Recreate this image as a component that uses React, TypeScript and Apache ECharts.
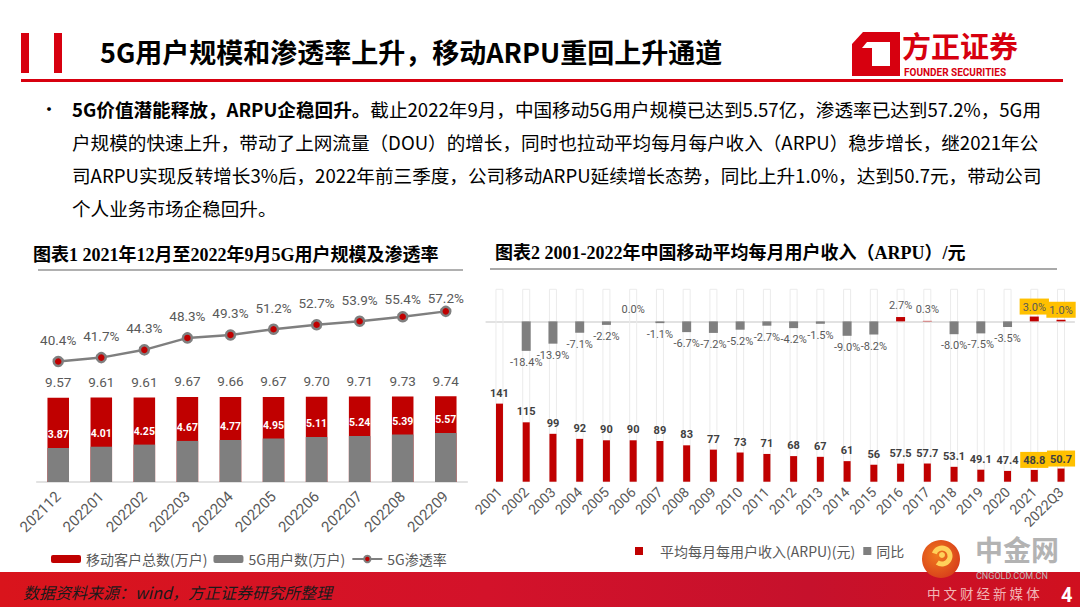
import React, { useEffect, useRef } from "react";
import * as echarts from "echarts";

// ---------- data ----------
const months = ["202112", "202201", "202202", "202203", "202204", "202205", "202206", "202207", "202208", "202209"];
const totalUsers = [9.57, 9.61, 9.61, 9.67, 9.66, 9.67, 9.7, 9.71, 9.73, 9.74];
const users5G = [3.87, 4.01, 4.25, 4.67, 4.77, 4.95, 5.11, 5.24, 5.39, 5.57];
const penetration = [40.4, 41.7, 44.3, 48.3, 49.3, 51.2, 52.7, 53.9, 55.4, 57.2];

const years = ["2001", "2002", "2003", "2004", "2005", "2006", "2007", "2008", "2009", "2010", "2011",
  "2012", "2013", "2014", "2015", "2016", "2017", "2018", "2019", "2020", "2021", "2022Q3"];
const arpu = [141, 115, 99, 92, 90, 90, 89, 83, 77, 73, 71, 68, 67, 61, 56, 57.5, 57.7, 53.1, 49.1, 47.4, 48.8, 50.7];
const yoy: (number | null)[] = [null, -18.4, -13.9, -7.1, -2.2, 0.0, -1.1, -6.7, -7.2, -5.2, -2.7, -4.2, -1.5,
  -9.0, -8.2, 2.7, 0.3, -8.0, -7.5, -3.5, 3.0, 1.0];
const highlightedYears = ["2021", "2022Q3"];

const pageTitle = "5G用户规模和渗透率上升，移动ARPU重回上升通道";
const chart1Title = "图表1 2021年12月至2022年9月5G用户规模及渗透率";
const chart2Title = "图表2 2001-2022年中国移动平均每月用户收入（ARPU）/元";
const bodyBold = "5G价值潜能释放，ARPU企稳回升。";
const bodyLines = [
  "截止2022年9月，中国移动5G用户规模已达到5.57亿，渗透率已达到57.2%，5G用",
  "户规模的快速上升，带动了上网流量（DOU）的增长，同时也拉动平均每月每户收入（ARPU）稳步增长，继2021年公",
  "司ARPU实现反转增长3%后，2022年前三季度，公司移动ARPU延续增长态势，同比上升1.0%，达到50.7元，带动公司",
  "个人业务市场企稳回升。",
];
const sourceText = "数据资料来源：wind，方正证券研究所整理";

// ---------- styles ----------
const RED = "#C00000";
const GRAY = "#7F7F7F";
const LABEL = "#595959";
const YELLOW = "#FFC000";
const BRAND = "#D7000F";
const FONT = 'Roboto, "Noto Sans CJK SC", sans-serif';
const CJK = '"Noto Sans CJK SC", sans-serif';
const SERIF_CJK = '"Liberation Serif", "Noto Sans CJK SC", serif';

function txt(text: string, x: number, y: number, o: any = {}) {
  return {
    type: "text",
    x,
    y,
    silent: true,
    style: {
      text,
      fill: o.fill || "#000",
      fontSize: o.fontSize || 14,
      fontWeight: o.fontWeight || "normal",
      fontStyle: o.fontStyle || "normal",
      fontFamily: o.fontFamily || CJK,
      verticalAlign: "middle",
      align: o.align || "left",
      rich: o.rich,
    },
    z: 100,
  };
}

function buildGraphic() {
  const g: any[] = [];
  // header
  g.push({ type: "rect", shape: { x: 21, y: 33, width: 8, height: 40 }, style: { fill: BRAND } });
  g.push({ type: "rect", shape: { x: 54, y: 33, width: 8, height: 40 }, style: { fill: BRAND } });
  g.push(txt(pageTitle, 100, 51, { fontSize: 27, fontWeight: "bold" }));
  g.push({ type: "rect", shape: { x: 21, y: 79, width: 1042, height: 3 }, style: { fill: BRAND } });
  // logo
  g.push({
    type: "polygon",
    shape: { points: [[863, 32], [900, 32], [900, 76], [852, 76], [852, 44]] },
    style: { fill: BRAND },
  });
  g.push({
    type: "polygon",
    shape: { points: [[867, 42], [890, 42], [890, 66], [862, 66], [862, 48]] },
    style: { fill: "#fff" },
  });
  g.push({
    type: "polygon",
    shape: { points: [[862, 48], [872, 48], [872, 66], [862, 66]] },
    style: { fill: BRAND },
  });
  g.push(txt("方正证券", 902, 45, { fontSize: 29, fontWeight: "bold", fill: BRAND }));
  g.push(txt("FOUNDER SECURITIES", 904, 72, { fontSize: 10, fontWeight: "bold", fill: BRAND, fontFamily: FONT }));
  // body
  g.push(txt("•", 40, 108, { fontSize: 18 }));
  g.push(
    txt("{b|" + bodyBold + "}" + bodyLines[0], 72, 108, {
      fontSize: 18.6,
      rich: { b: { fontWeight: "bold", fontSize: 18.6, fill: "#000", fontFamily: CJK } },
    })
  );
  for (let i = 1; i < bodyLines.length; i++) {
    g.push(txt(bodyLines[i], 72, 108 + 33 * i, { fontSize: 18.6 }));
  }
  // chart titles
  g.push(txt(chart1Title, 33, 255, { fontSize: 18, fontWeight: "bold", fontFamily: SERIF_CJK }));
  g.push({ type: "line", shape: { x1: 38, y1: 270, x2: 463, y2: 270 }, style: { stroke: "#B0B0B0", lineWidth: 2 } });
  g.push(txt(chart2Title, 495, 253, { fontSize: 18, fontWeight: "bold", fontFamily: SERIF_CJK }));
  g.push({ type: "line", shape: { x1: 490, y1: 269, x2: 1057, y2: 269 }, style: { stroke: "#8C8C8C", lineWidth: 1.5 } });
  // bottom banner
  g.push({
    type: "rect",
    shape: { x: 0, y: 572, width: 1080, height: 35 },
    style: {
      fill: new echarts.graphic.LinearGradient(0, 0, 1, 0, [
        { offset: 0, color: "#D9141C" },
        { offset: 0.45, color: "#D3122A" },
        { offset: 0.75, color: "#C6112C" },
        { offset: 1, color: "#D0101F" },
      ]),
    },
    z: 50,
  });
  g.push(txt(sourceText, 23, 592, { fontSize: 16, fontStyle: "italic", fill: "#1A1A1A" }));
  // watermark
  g.push({
    type: "circle",
    shape: { cx: 941, cy: 559, r: 19 },
    style: {
      fill: new echarts.graphic.RadialGradient(0.4, 0.4, 0.7, [
        { offset: 0, color: "#F07A1E" },
        { offset: 1, color: "#D63A1A" },
      ]),
    },
    z: 100,
  });
  g.push({
    type: "arc",
    shape: { cx: 942, cy: 556, r: 8, startAngle: -Math.PI * 0.9, endAngle: Math.PI * 0.7 },
    style: { stroke: "#FFD15A", lineWidth: 5, fill: "none" },
    z: 101,
  });
  g.push({ type: "circle", shape: { cx: 942, cy: 555, r: 3 }, style: { fill: "#FFD15A" }, z: 101 });
  g.push(txt("中金网", 975, 549, { fontSize: 28, fontWeight: "bold", fill: "#B3B3B3" }));
  g.push(txt("CNGOLD.COM.CN", 976, 576, { fontSize: 9, fill: "#BDBDBD", fontFamily: FONT }));
  g.push(txt("中 文 财 经 新 媒 体", 927, 593, { fontSize: 13.5, fill: "#F2B5B5" }));
  g.push(txt("4", 1061, 595, { fontSize: 20, fontWeight: "bold", fill: "#fff", fontFamily: FONT }));
  return g;
}

function buildOption() {
  const n = penetration.length;
  const penData = penetration.map((v, i) => {
    if (i === n - 1) return { value: v, label: { distance: 1 } };
    if (i === n - 2) return { value: v, label: { distance: 5 } };
    return v;
  });
  const arpuData = arpu.map((v, i) => {
    const hl = highlightedYears.includes(years[i]);
    return hl
      ? { value: v, label: { backgroundColor: YELLOW, padding: [3, 3, 2, 3], distance: 2 } }
      : { value: v };
  });
  const yoyData = yoy.map((v, i) => {
    if (v === null) return "-";
    const hl = highlightedYears.includes(years[i]);
    const item: any = {
      value: v,
      itemStyle: { color: v > 0 ? RED : GRAY },
      label: { position: v >= 0 ? "top" : "bottom" },
    };
    if (hl) item.label = { position: "top", backgroundColor: YELLOW, padding: [3, 3, 2, 3], distance: 2 };
    return item;
  });

  return {
    animation: false,
    textStyle: { fontFamily: FONT },
    graphic: buildGraphic(),
    grid: [
      { left: 36.7, top: 306, width: 430.6, height: 176 },
      { left: 486.1, top: 289.3, width: 588.3, height: 192.4 },
    ],
    legend: [
      {
        left: 46,
        top: 547,
        itemWidth: 30,
        itemHeight: 8,
        itemGap: 6,
        textStyle: { color: LABEL, fontSize: 14, fontFamily: CJK },
        data: ["移动客户总数(万户)", "5G用户数(万户)", "5G渗透率"],
      },
      {
        left: 630,
        top: 539,
        itemWidth: 8,
        itemHeight: 8,
        itemGap: 8,
        textStyle: { color: LABEL, fontSize: 14, fontFamily: CJK },
        data: [
          { name: "平均每月每用户收入(ARPU)(元)", icon: "rect", textStyle: { padding: [0, 0, 0, 12] } },
          { name: "同比", icon: "rect" },
        ],
      },
    ],
    xAxis: [
      {
        gridIndex: 0,
        type: "category",
        data: months,
        axisLine: { lineStyle: { color: "#D9D9D9", width: 1.5 } },
        axisTick: { show: false },
        axisLabel: { rotate: 45, color: LABEL, fontSize: 15, margin: 12 },
      },
      {
        gridIndex: 1,
        type: "category",
        data: years,
        axisLine: { lineStyle: { color: "#D9D9D9", width: 1.5 } },
        axisTick: { show: false },
        axisLabel: { rotate: 45, color: LABEL, fontSize: 14, margin: 8, interval: 0 },
      },
      { gridIndex: 1, type: "category", data: years, show: false },
    ],
    yAxis: [
      { gridIndex: 0, type: "value", min: 0, max: 20, show: false },
      { gridIndex: 0, type: "value", min: 0, max: 59, show: false },
      { gridIndex: 1, type: "value", min: 32.4, max: 300, show: false },
      { gridIndex: 1, type: "value", min: -100, max: 20, show: false },
    ],
    series: [
      {
        name: "移动客户总数(万户)",
        type: "bar",
        xAxisIndex: 0,
        yAxisIndex: 0,
        data: totalUsers,
        barWidth: "50%",
        barGap: "-100%",
        itemStyle: { color: RED },
        label: {
          show: true,
          position: "top",
          distance: 9,
          color: LABEL,
          fontSize: 13.5,
          formatter: (p: any) => Number(p.value).toFixed(2),
        },
      },
      {
        name: "5G用户数(万户)",
        type: "bar",
        xAxisIndex: 0,
        yAxisIndex: 0,
        data: users5G,
        barWidth: "50%",
        barGap: "-100%",
        itemStyle: { color: GRAY },
        label: {
          show: true,
          position: "top",
          distance: 8,
          color: "#fff",
          fontWeight: "bold",
          fontSize: 10.5,
          formatter: (p: any) => Number(p.value).toFixed(2),
        },
      },
      {
        name: "5G渗透率",
        type: "line",
        xAxisIndex: 0,
        yAxisIndex: 1,
        data: penData,
        symbol: "circle",
        symbolSize: 9,
        lineStyle: { color: GRAY, width: 2.5 },
        itemStyle: { color: RED, borderColor: GRAY, borderWidth: 2.5 },
        label: {
          show: true,
          position: "top",
          distance: 9,
          color: LABEL,
          fontSize: 13.5,
          formatter: (p: any) => Number(p.value).toFixed(1) + "%",
        },
        z: 5,
      },
      {
        name: "平均每月每用户收入(ARPU)(元)",
        type: "bar",
        xAxisIndex: 1,
        yAxisIndex: 2,
        data: arpuData,
        barWidth: 7,
        itemStyle: { color: RED },
        showBackground: true,
        backgroundStyle: { color: "rgba(0,0,0,0)", borderColor: "#EBEBEB", borderWidth: 1 },
        label: { show: true, position: "top", distance: 5, color: "#404040", fontSize: 11, fontWeight: "bold" },
      },
      {
        name: "同比",
        type: "bar",
        xAxisIndex: 2,
        yAxisIndex: 3,
        data: yoyData,
        barWidth: 9,
        itemStyle: { color: GRAY },
        label: {
          show: true,
          distance: 6,
          color: LABEL,
          fontSize: 11,
          formatter: (p: any) => Number(p.value).toFixed(1) + "%",
        },
        z: 3,
      },
    ],
  };
}

export default function App() {
  const ref = useRef<HTMLDivElement>(null);
  useEffect(() => {
    if (!ref.current) return;
    const chart = echarts.init(ref.current, undefined, { renderer: "svg" });
    chart.setOption(buildOption() as any);
    return () => chart.dispose();
  }, []);
  return (
    <div
      ref={ref}
      style={{ position: "fixed", left: 0, top: 0, width: 1080, height: 607, background: "#fff" }}
    />
  );
}
